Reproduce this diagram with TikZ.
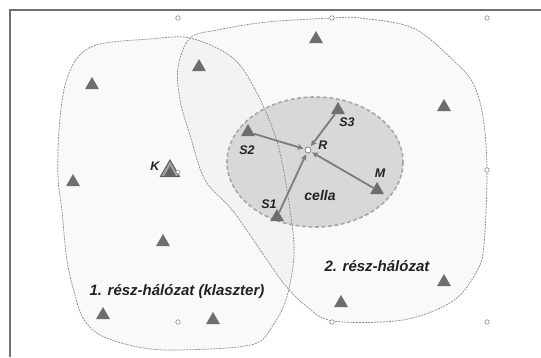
\documentclass[tikz,border=0pt]{standalone}
\usepackage{fontspec}
\setmainfont{Liberation Sans}
\usetikzlibrary{shapes.geometric,arrows.meta}
\definecolor{tri}{HTML}{6E6E6E}
\definecolor{frm}{HTML}{707070}
\definecolor{outl}{HTML}{8A8A8A}
\definecolor{cellfill}{HTML}{D8D8D8}
\definecolor{cellline}{HTML}{A8A8A8}
\definecolor{arr}{HTML}{7C7C7C}
\definecolor{txt}{HTML}{222222}
\tikzset{
  tribox/.style={regular polygon, regular polygon sides=3, minimum size=16pt, inner sep=0pt, fill=tri, draw=none},
  handle/.style={circle, draw=outl, fill=white, line width=0.6pt, minimum size=4.5pt, inner sep=0pt},
  lbl/.style={font=\bfseries\itshape\fontsize{12.5}{14}\selectfont, text=txt, inner sep=0pt},
  biglbl/.style={font=\bfseries\itshape\fontsize{15}{17}\selectfont, text=txt, inner sep=0pt},
  regionline/.style={draw=outl, line width=0.7pt, dash pattern=on 2pt off 1pt},
  arrline/.style={draw=arr, line width=1.8pt, -{Stealth[length=6pt,width=6pt]}, shorten >=1.5pt},
}
\begin{document}
\begin{tikzpicture}[x=1pt,y=-1pt]
\useasboundingbox (0,0) rectangle (541,357);
\fill[white] (0,0) rectangle (541,357);
% regions
\def\regA{plot[smooth cycle, tension=0.55] coordinates {(190,38) (233,58) (258,95) (278,145) (290,210) (294,255) (286,300) (270,330) (257,343) (227,348) (167,350) (133,346) (100,335) (83,318) (75,295) (67,261) (62,211) (58,178) (59,130) (65,85) (78,57) (100,44) (150,39)}}
\def\regB{plot[smooth cycle, tension=0.55] coordinates {(190,38) (217,30) (267,22) (333,18) (360,18) (413,28) (453,60) (473,83) (483,117) (487,170) (484,245) (477,271) (453,301) (403,320) (333,321) (305,305) (285,285) (267,260) (233,211) (205,180) (190,135) (180,100) (178,67)}}
\fill[black, fill opacity=0.025] \regA;
\fill[black, fill opacity=0.025] \regB;
% cell
\fill[cellfill] (315,162) ellipse [x radius=88, y radius=65];
\draw[regionline] \regA;
\draw[regionline] \regB;
\draw[draw=cellline, line width=1.6pt, dash pattern=on 4pt off 2.5pt] (315,162) ellipse [x radius=88, y radius=65];
% frame
\draw[frm, line width=2pt] (9.5,357) -- (9.5,10) -- (541,10);
% handles
\node[handle] (h1) at (178,18) {};
\node[handle] (h2) at (332,18) {};
\node[handle] (h3) at (487,18) {};
\node[handle] (h4) at (487,170) {};
\node[handle] (h5) at (487,322) {};
\node[handle] (h6) at (332,322) {};
\node[handle] (h7) at (178,322) {};
% triangles
\node[tribox] (t1) at (92,85) {};
\node[tribox] (t2) at (199,67) {};
\node[tribox] (t3) at (316,39) {};
\node[tribox] (t4) at (444,107) {};
\node[tribox] (tS3) at (338,110) {};
\node[tribox] (tS2) at (248,132) {};
\node[tribox] (tS1) at (277,217) {};
\node[tribox] (tM) at (377,190) {};
\node[tribox] (t5) at (73,182) {};
\node[tribox] (t6) at (163,242) {};
\node[tribox] (t7) at (103,315) {};
\node[tribox] (t8) at (213,320) {};
\node[tribox] (t9) at (444,282) {};
\node[tribox] (t10) at (341,303) {};
% K
\node[regular polygon, regular polygon sides=3, minimum size=22pt, inner sep=0pt, fill=white!35!tri, draw=tri!85!black, line width=1pt] (tK) at (170,171) {};
\node[regular polygon, regular polygon sides=3, minimum size=13pt, inner sep=0pt, fill=tri!90!black] (tKin) at (170,172.5) {};
\node[handle, minimum size=4pt] (h8) at (178,172) {};
% R
\node[circle, draw=arr, fill=white, line width=0.7pt, minimum size=6pt, inner sep=0pt] (R) at (308,150) {};
% arrows
\draw[arrline] (tS2) -- (R);
\draw[arrline] (tS1) -- (R);
\draw[arrline] (tM) -- (R);
\draw[arrline] (tS3) -- (R);
% labels
\node[lbl] (lS2) at (247,150) {S2};
\node[lbl] (lS3) at (347,122) {S3};
\node[lbl] (lR) at (323,145) {R};
\node[lbl] (lM) at (380,173) {M};
\node[lbl] (lS1) at (269,204) {S1};
\node[lbl, font=\bfseries\itshape\fontsize{14}{16}\selectfont] (lc) at (320,195) {cella};
\node[lbl] (lK) at (155,166) {K};
\node[biglbl] (l1) at (177,292) {1. rész-hálózat (klaszter)};
\node[biglbl] (l2) at (377,266) {2. rész-hálózat};
\end{tikzpicture}
\end{document}
